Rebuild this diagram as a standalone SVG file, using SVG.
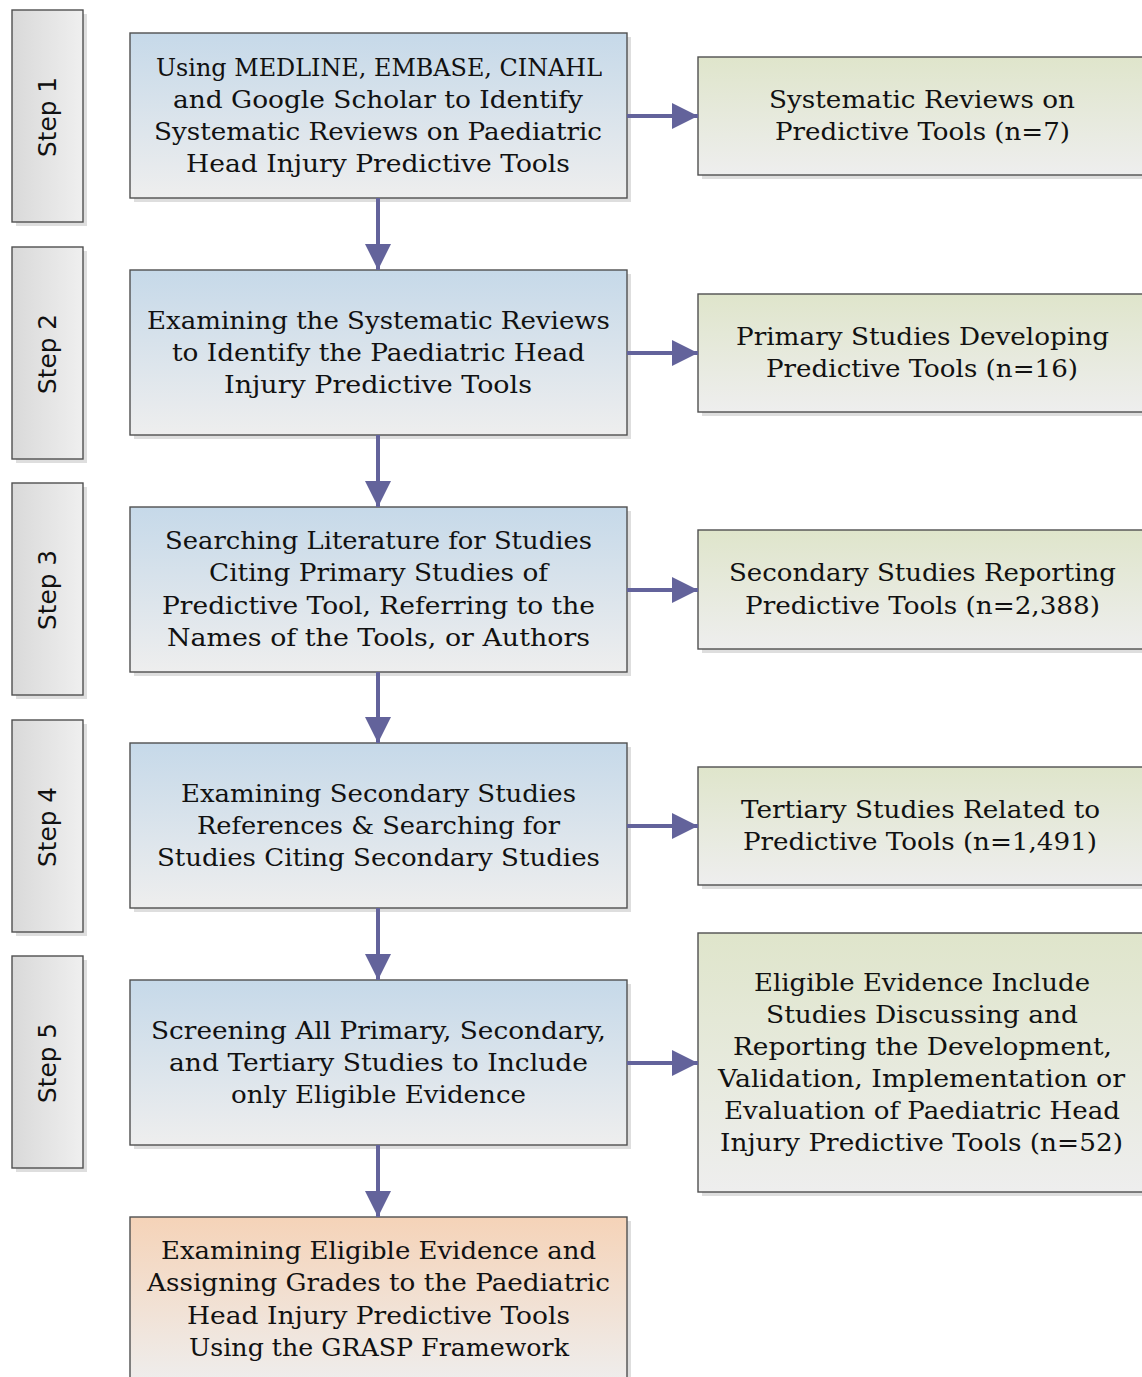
<svg xmlns="http://www.w3.org/2000/svg" width="1142" height="1377" viewBox="0 0 1142 1377">
<defs>
<linearGradient id="gBlue" x1="0" y1="0" x2="0" y2="1"><stop offset="0" stop-color="#c6d9e9"/><stop offset="1" stop-color="#eeeeee"/></linearGradient>
<linearGradient id="gGreen" x1="0" y1="0" x2="0" y2="1"><stop offset="0" stop-color="#dfe5cb"/><stop offset="1" stop-color="#eeeeee"/></linearGradient>
<linearGradient id="gOrange" x1="0" y1="0" x2="0" y2="1"><stop offset="0" stop-color="#f5d3b8"/><stop offset="1" stop-color="#eeeeee"/></linearGradient>
<linearGradient id="gGray" x1="0" y1="0" x2="1" y2="0"><stop offset="0" stop-color="#d9d9d9"/><stop offset="1" stop-color="#efefef"/></linearGradient>
<marker id="ah" markerWidth="26" markerHeight="26" refX="26" refY="13" orient="auto" markerUnits="userSpaceOnUse"><path d="M0,0 L26,13 L0,26 Z" fill="#63639b"/></marker>
</defs>
<style>
.sh{fill:#dedede}
.box{stroke:#505050;stroke-width:1.4}
.step{fill:url(#gGray)}
.blue{fill:url(#gBlue)}
.green{fill:url(#gGreen)}
.orange{fill:url(#gOrange)}
.t{font-family:"DejaVu Serif",serif;font-size:25px;fill:#111;text-anchor:middle}
.s{font-family:"DejaVu Sans",sans-serif;font-size:25px;fill:#111;text-anchor:middle}
.c{stroke:#63639b;stroke-width:4;fill:none}
</style>
<g id="step1"><rect class="sh" x="16" y="14" width="71" height="212"/><rect class="box step" x="12" y="10" width="71" height="212"/><text class="s" transform="translate(56,117) rotate(-90)" textLength="80" lengthAdjust="spacingAndGlyphs">Step 1</text></g>
<g id="step2"><rect class="sh" x="16" y="251" width="71" height="212"/><rect class="box step" x="12" y="247" width="71" height="212"/><text class="s" transform="translate(56,354) rotate(-90)" textLength="80" lengthAdjust="spacingAndGlyphs">Step 2</text></g>
<g id="step3"><rect class="sh" x="16" y="487" width="71" height="212"/><rect class="box step" x="12" y="483" width="71" height="212"/><text class="s" transform="translate(56,590) rotate(-90)" textLength="80" lengthAdjust="spacingAndGlyphs">Step 3</text></g>
<g id="step4"><rect class="sh" x="16" y="724" width="71" height="212"/><rect class="box step" x="12" y="720" width="71" height="212"/><text class="s" transform="translate(56,827) rotate(-90)" textLength="80" lengthAdjust="spacingAndGlyphs">Step 4</text></g>
<g id="step5"><rect class="sh" x="16" y="960" width="71" height="212"/><rect class="box step" x="12" y="956" width="71" height="212"/><text class="s" transform="translate(56,1063) rotate(-90)" textLength="80" lengthAdjust="spacingAndGlyphs">Step 5</text></g>

<g id="m1"><rect class="sh" x="134" y="37" width="497" height="165"/><rect class="box blue" x="130" y="33" width="497" height="165"/>
<text class="t" x="379" y="76" textLength="446" lengthAdjust="spacingAndGlyphs">Using MEDLINE, EMBASE, CINAHL</text>
<text class="t" x="378" y="108" textLength="410" lengthAdjust="spacingAndGlyphs">and Google Scholar to Identify</text>
<text class="t" x="378" y="140" textLength="448" lengthAdjust="spacingAndGlyphs">Systematic Reviews on Paediatric</text>
<text class="t" x="378" y="172" textLength="384" lengthAdjust="spacingAndGlyphs">Head Injury Predictive Tools</text></g>
<g id="m2"><rect class="sh" x="134" y="274" width="497" height="165"/><rect class="box blue" x="130" y="270" width="497" height="165"/>
<text class="t" x="378.5" y="329" textLength="463" lengthAdjust="spacingAndGlyphs">Examining the Systematic Reviews</text>
<text class="t" x="378.5" y="361" textLength="413" lengthAdjust="spacingAndGlyphs">to Identify the Paediatric Head</text>
<text class="t" x="378" y="393" textLength="308" lengthAdjust="spacingAndGlyphs">Injury Predictive Tools</text></g>
<g id="m3"><rect class="sh" x="134" y="511" width="497" height="165"/><rect class="box blue" x="130" y="507" width="497" height="165"/>
<text class="t" x="378.5" y="549" textLength="427" lengthAdjust="spacingAndGlyphs">Searching Literature for Studies</text>
<text class="t" x="378.5" y="581" textLength="339" lengthAdjust="spacingAndGlyphs">Citing Primary Studies of</text>
<text class="t" x="378.5" y="614" textLength="433" lengthAdjust="spacingAndGlyphs">Predictive Tool, Referring to the</text>
<text class="t" x="378.5" y="646" textLength="423" lengthAdjust="spacingAndGlyphs">Names of the Tools, or Authors</text></g>
<g id="m4"><rect class="sh" x="134" y="747" width="497" height="165"/><rect class="box blue" x="130" y="743" width="497" height="165"/>
<text class="t" x="378.5" y="802" textLength="395" lengthAdjust="spacingAndGlyphs">Examining Secondary Studies</text>
<text class="t" x="378.5" y="834" textLength="363" lengthAdjust="spacingAndGlyphs">References &amp; Searching for</text>
<text class="t" x="378.5" y="866" textLength="443" lengthAdjust="spacingAndGlyphs">Studies Citing Secondary Studies</text></g>
<g id="m5"><rect class="sh" x="134" y="984" width="497" height="165"/><rect class="box blue" x="130" y="980" width="497" height="165"/>
<text class="t" x="378.5" y="1039" textLength="455" lengthAdjust="spacingAndGlyphs">Screening All Primary, Secondary,</text>
<text class="t" x="378.5" y="1071" textLength="419" lengthAdjust="spacingAndGlyphs">and Tertiary Studies to Include</text>
<text class="t" x="378.5" y="1103" textLength="295" lengthAdjust="spacingAndGlyphs">only Eligible Evidence</text></g>
<g id="m6"><rect class="sh" x="134" y="1221" width="497" height="170"/><rect class="box orange" x="130" y="1217" width="497" height="170"/>
<text class="t" x="378.5" y="1259" textLength="435" lengthAdjust="spacingAndGlyphs">Examining Eligible Evidence and</text>
<text class="t" x="378.5" y="1291" textLength="463" lengthAdjust="spacingAndGlyphs">Assigning Grades to the Paediatric</text>
<text class="t" x="378.5" y="1324" textLength="383" lengthAdjust="spacingAndGlyphs">Head Injury Predictive Tools</text>
<text class="t" x="379" y="1356" textLength="380" lengthAdjust="spacingAndGlyphs">Using the GRASP Framework</text></g>

<g id="r1"><rect class="sh" x="702" y="61" width="460" height="118"/><rect class="box green" x="698" y="57" width="460" height="118"/>
<text class="t" x="922" y="108" textLength="306" lengthAdjust="spacingAndGlyphs">Systematic Reviews on</text>
<text class="t" x="922.5" y="140" textLength="295" lengthAdjust="spacingAndGlyphs">Predictive Tools (n=7)</text></g>
<g id="r2"><rect class="sh" x="702" y="298" width="460" height="118"/><rect class="box green" x="698" y="294" width="460" height="118"/>
<text class="t" x="922.5" y="345" textLength="373" lengthAdjust="spacingAndGlyphs">Primary Studies Developing</text>
<text class="t" x="922" y="377" textLength="312" lengthAdjust="spacingAndGlyphs">Predictive Tools (n=16)</text></g>
<g id="r3"><rect class="sh" x="702" y="534" width="460" height="119"/><rect class="box green" x="698" y="530" width="460" height="119"/>
<text class="t" x="922.5" y="581" textLength="387" lengthAdjust="spacingAndGlyphs">Secondary Studies Reporting</text>
<text class="t" x="922.5" y="614" textLength="355" lengthAdjust="spacingAndGlyphs">Predictive Tools (n=2,388)</text></g>
<g id="r4"><rect class="sh" x="702" y="771" width="460" height="118"/><rect class="box green" x="698" y="767" width="460" height="118"/>
<text class="t" x="920.5" y="818" textLength="359" lengthAdjust="spacingAndGlyphs">Tertiary Studies Related to</text>
<text class="t" x="920" y="850" textLength="354" lengthAdjust="spacingAndGlyphs">Predictive Tools (n=1,491)</text></g>
<g id="r5"><rect class="sh" x="702" y="937" width="460" height="259"/><rect class="box green" x="698" y="933" width="460" height="259"/>
<text class="t" x="922" y="991" textLength="336" lengthAdjust="spacingAndGlyphs">Eligible Evidence Include</text>
<text class="t" x="922" y="1023" textLength="312" lengthAdjust="spacingAndGlyphs">Studies Discussing and</text>
<text class="t" x="922.5" y="1055" textLength="379" lengthAdjust="spacingAndGlyphs">Reporting the Development,</text>
<text class="t" x="921.5" y="1087" textLength="407" lengthAdjust="spacingAndGlyphs">Validation, Implementation or</text>
<text class="t" x="922" y="1119" textLength="396" lengthAdjust="spacingAndGlyphs">Evaluation of Paediatric Head</text>
<text class="t" x="921.5" y="1151" textLength="403" lengthAdjust="spacingAndGlyphs">Injury Predictive Tools (n=52)</text></g>

<g id="connectors">
<line class="c" x1="378" y1="198" x2="378" y2="270" marker-end="url(#ah)"/>
<line class="c" x1="378" y1="435" x2="378" y2="507" marker-end="url(#ah)"/>
<line class="c" x1="378" y1="672" x2="378" y2="743" marker-end="url(#ah)"/>
<line class="c" x1="378" y1="908" x2="378" y2="980" marker-end="url(#ah)"/>
<line class="c" x1="378" y1="1145" x2="378" y2="1217" marker-end="url(#ah)"/>
<line class="c" x1="627" y1="116" x2="698" y2="116" marker-end="url(#ah)"/>
<line class="c" x1="627" y1="353" x2="698" y2="353" marker-end="url(#ah)"/>
<line class="c" x1="627" y1="590" x2="698" y2="590" marker-end="url(#ah)"/>
<line class="c" x1="627" y1="826" x2="698" y2="826" marker-end="url(#ah)"/>
<line class="c" x1="627" y1="1063" x2="698" y2="1063" marker-end="url(#ah)"/>
</g>
</svg>
